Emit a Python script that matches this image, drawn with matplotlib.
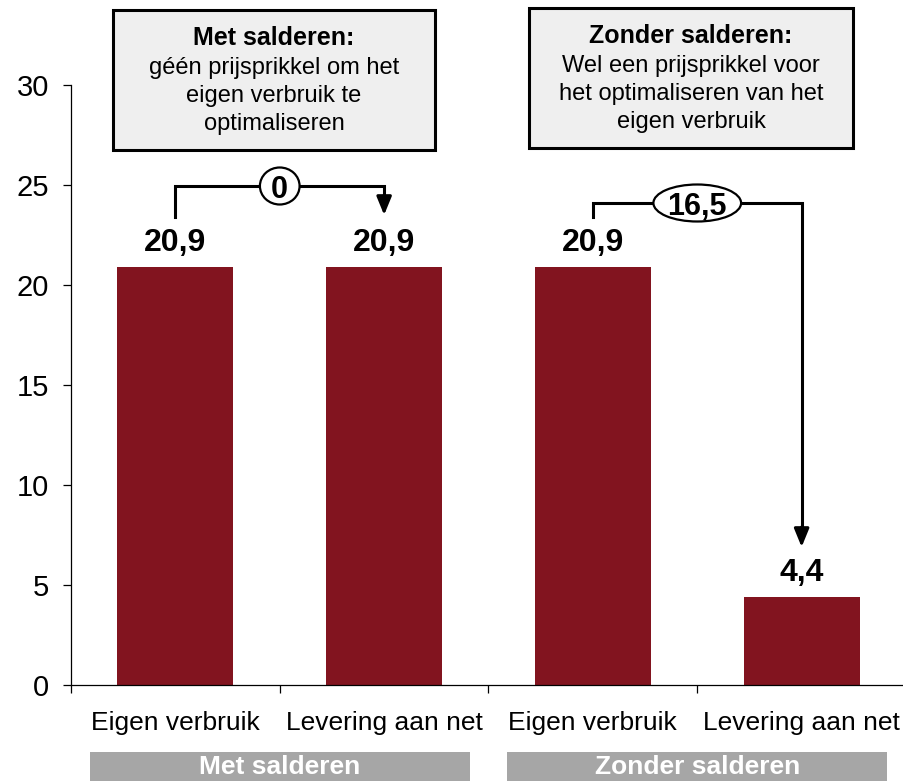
import matplotlib
matplotlib.use("Agg")
import matplotlib.pyplot as plt
from matplotlib.patches import Rectangle, Ellipse
from matplotlib.transforms import blended_transform_factory

plt.rcParams['font.family'] = ['Liberation Sans', 'DejaVu Sans']

# data
categories = ["Eigen verbruik", "Levering aan net", "Eigen verbruik", "Levering aan net"]
values = [20.9, 20.9, 20.9, 4.4]
groups = ["Met salderen", "Zonder salderen"]
box_titles = ["Met salderen:", "Zonder salderen:"]
box_texts = ["géén prijsprikkel om het\neigen verbruik te\noptimaliseren",
             "Wel een prijsprikkel voor\nhet optimaliseren van het\neigen verbruik"]

bar_color = "#82141F"
W, H = 904, 781

fig = plt.figure(figsize=(W / 100, H / 100), dpi=100)
ax = fig.add_axes([71 / W, 96 / H, 835 / W, 600 / H])

x = list(range(len(values)))
ax.bar(x, values, width=0.555, color=bar_color, zorder=2)
ax.set_xlim(-0.5, 3.495)
ax.set_ylim(0, 30)

for s in ["top", "right"]:
    ax.spines[s].set_visible(False)
for s in ["left", "bottom"]:
    ax.spines[s].set_linewidth(0.9)

ax.set_yticks([0, 5, 10, 15, 20, 25, 30])
ax.tick_params(axis="y", labelsize=21, length=6, width=0.9, pad=10)
ax.set_xticks([-0.5, 0.5, 1.5, 2.5, 3.5])
ax.set_xticklabels([])
ax.tick_params(axis="x", length=6, width=0.9)

def fmt(v):
    return ("%.1f" % v).replace(".", ",").replace(",0", "") if v != 0 else "0"

# value labels
for xi, v in zip(x, values):
    ax.text(xi, v + 0.45, fmt(v), ha="center", va="bottom",
            fontsize=23, fontweight="bold")

# category labels and group bars below the axis
tr = blended_transform_factory(ax.transData, fig.transFigure)
for xi, c in zip(x, categories):
    ax.text(xi, (H - 730) / H, c, transform=tr, ha="center", va="baseline",
            fontsize=19, clip_on=False)
for gi, g in enumerate(groups):
    cx = 0.5 + 2 * gi
    ax.add_patch(Rectangle((cx - 0.91, 0), 1.82, 29 / H, transform=tr,
                           facecolor="#A6A6A6", edgecolor="none",
                           clip_on=False, zorder=5))
    ax.text(cx, 14 / H, g, transform=tr, ha="center", va="center",
            fontsize=19, fontweight="bold", color="white", clip_on=False,
            zorder=6)

# brackets with arrows
def bracket(i0, i1, yh, ytip, label, ew):
    y0 = values[i0] + 2.5
    ax.plot([i0, i0, i1, i1], [y0, yh, yh, ytip + 0.5], color="black", lw=2.2,
            solid_joinstyle="miter", clip_on=False, zorder=3)
    ax.annotate("", xy=(i1, ytip), xytext=(i1, ytip + 1.0),
                arrowprops=dict(arrowstyle="-|>,head_length=1.1,head_width=0.45",
                                lw=2.2, color="black", shrinkA=0, shrinkB=0),
                zorder=3)
    cx = (i0 + i1) / 2
    ax.add_patch(Ellipse((cx, yh), ew, 1.85, facecolor="white",
                         edgecolor="black", lw=1.6, zorder=4, clip_on=False))
    ax.text(cx, yh, label, ha="center", va="center_baseline", fontsize=22,
            fontweight="bold", zorder=5)

bracket(0, 1, 24.95, values[1] + 2.6, fmt(values[0] - values[1]), 0.19)
bracket(2, 3, 24.1, values[3] + 2.5, fmt(values[2] - values[3]), 0.42)

# text boxes at the top
boxes = [(113, 10, 435, 150), (529, 8, 853, 148)]
for (l, t, r, b), title, body in zip(boxes, box_titles, box_texts):
    fig.add_artist(Rectangle((l / W, 1 - b / H), (r - l) / W, (b - t) / H,
                             transform=fig.transFigure, facecolor="#EFEFEF",
                             edgecolor="black", lw=2.2))
    cx = (l + r) / 2 / W
    fig.text(cx, 1 - (t + 28) / H, title, ha="center", va="center",
             fontsize=18, fontweight="bold")
    fig.text(cx, 1 - (t + 86) / H, body, ha="center", va="center",
             fontsize=17, linespacing=1.38)

fig.savefig("out.png", dpi=100)
